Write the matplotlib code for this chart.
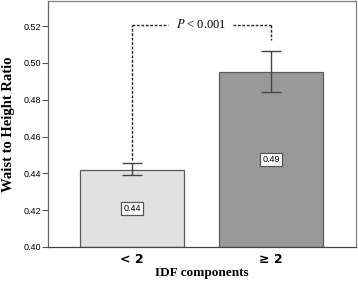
import matplotlib.pyplot as plt

groups = ["< 2", "\u2265 2"]
means = [0.442, 0.4953]
err_low = [0.4391, 0.4841]
err_high = [0.4454, 0.5064]
value_labels = ["0.44", "0.49"]
bar_colors = ["#e1e1e1", "#999999"]
p_text = "$P$ < 0.001"

fig = plt.figure(figsize=(3.58, 2.81), dpi=100)
ax = fig.add_axes([0.134, 0.121, 0.860, 0.874])

x = list(range(len(groups)))
ax.bar(x, [m - 0.40 for m in means], bottom=0.40, width=0.75,
       color=bar_colors, edgecolor="#5a5a5a", linewidth=0.9, zorder=2)

yerr = [[m - lo for m, lo in zip(means, err_low)],
        [hi - m for m, hi in zip(means, err_high)]]
ax.errorbar(x, means, yerr=yerr, fmt="none", ecolor="#444444",
            elinewidth=1.0, capsize=7.5, capthick=1.0, zorder=3)

for xi, m, lab in zip(x, means, value_labels):
    ax.text(xi, (0.40 + m) / 2, lab, ha="center", va="center",
            fontsize=6.5, family="Liberation Sans",
            bbox=dict(boxstyle="square,pad=0.25", fc="white", ec="#555555", lw=0.9),
            zorder=4)

# significance bracket
ytop = 0.5208
dash = dict(color="#222222", lw=1.0, ls=(0, (2, 1.2)), zorder=3)
ax.plot([0, 0], [0.4475, ytop], **dash)
ax.plot([0, 0.26], [ytop, ytop], **dash)
ax.plot([0.73, 1], [ytop, ytop], **dash)
ax.plot([1, 1], [ytop, 0.5125], **dash)
ax.text(0.5, ytop, p_text, ha="center", va="center", fontsize=9,
        family="Liberation Serif", math_fontfamily="stix")

ax.set_xlim(-0.604, 1.61)
ax.set_ylim(0.40, 0.5334)
ax.set_yticks([0.40, 0.42, 0.44, 0.46, 0.48, 0.50, 0.52])
ax.set_yticklabels(["0.40", "0.42", "0.44", "0.46", "0.48", "0.50", "0.52"],
                   fontsize=6.5, family="Liberation Sans")
ax.set_xticks(x)
ax.set_xticklabels(groups, fontsize=9, fontweight="bold", family="DejaVu Sans")
ax.tick_params(axis="x", length=0, pad=4)
ax.tick_params(axis="y", length=4, width=0.8, color="#555555", pad=1)

for s in ax.spines.values():
    s.set_color("#808080")
    s.set_linewidth(0.9)
ax.spines["bottom"].set_color("#444444")
ax.spines["left"].set_color("#666666")

ax.set_ylabel("Waist to Height Ratio", fontsize=10.5, fontweight="bold",
              family="Liberation Serif", labelpad=6)
ax.set_xlabel("IDF components", fontsize=9.5, fontweight="bold",
              family="Liberation Serif", labelpad=1)

fig.savefig("out.png", dpi=100)
